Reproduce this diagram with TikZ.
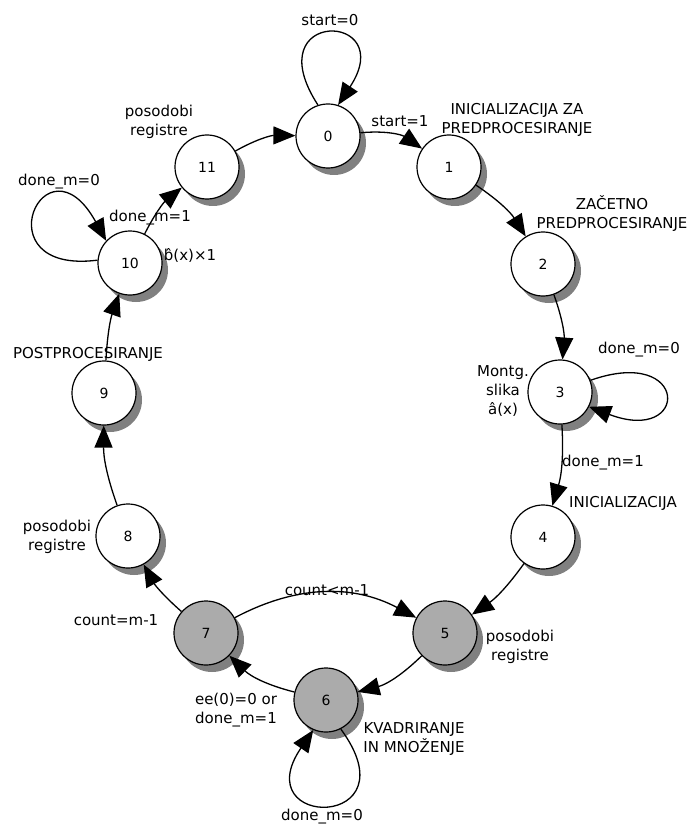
\documentclass[tikz,border=0pt]{standalone}
\usepackage{fontspec}
\setmainfont{DejaVu Sans}
\usetikzlibrary{arrows.meta,shadows}
\definecolor{shgray}{HTML}{808080}
\definecolor{stgray}{HTML}{ABABAB}
\newcommand{\bhatx}{\rlap{\makebox[0.635em][c]{ˆ}}b}
\begin{document}
\begin{tikzpicture}[x=1pt,y=1pt,
  st/.style={circle,draw,line width=1.2pt,minimum size=64pt,inner sep=0pt,fill=white,
    font=\fontsize{14}{17}\selectfont,
    drop shadow={shadow xshift=6pt,shadow yshift=-7pt,fill=shgray,draw=none,opacity=1}},
  gst/.style={st,fill=stgray},
  lbl/.style={font=\fontsize{15}{19}\selectfont,align=center,inner sep=0pt},
  tr/.style={line width=1.3pt,-{Triangle[length=22pt,width=18pt]}},
]
\useasboundingbox (0,0) rectangle (692,-826);

\node[st]  (n0)  at (328,-136) {0};
\node[st]  (n1)  at (449,-167) {1};
\node[st]  (n2)  at (543,-264) {2};
\node[st]  (n3)  at (560,-392) {3};
\node[st]  (n4)  at (543,-537) {4};
\node[gst] (n5)  at (445,-633) {5};
\node[gst] (n6)  at (326,-700) {6};
\node[gst] (n7)  at (206,-633) {7};
\node[st]  (n8)  at (128,-536) {8};
\node[st]  (n9)  at (104,-393) {9};
\node[st]  (n10) at (130,-263) {10};
\node[st]  (n11) at (207,-167) {11};

% transitions
\draw[tr] (n0) to[bend left=20] (n1);
\draw[tr] (n1) to[bend left=12] (n2);
\draw[tr] (n2) to[bend left=12] (n3);
\draw[tr] (n3) to[bend left=10] (n4);
\draw[tr] (n4) to[bend left=10] (n5);
\draw[tr] (n5) to[bend left=15] (n6);
\draw[tr] (n6) to[bend left=15] (n7);
\draw[tr] (n7) to[bend left=28] (n5);
\draw[tr] (n7) to[bend left=10] (n8);
\draw[tr] (n8) to[bend left=10] (n9);
\draw[tr] (n9) to[bend left=8] (n10);
\draw[tr] (n10) to[bend left=12] (n11);
\draw[tr] (n11) to[bend left=15] (n0);

% self loops
\draw[tr] (n0.108) .. controls (255,-8) and (400,-11) .. (n0.72);
\draw[tr] (n3.21) .. controls (690,-345) and (690,-445) .. (n3.-27);
\draw[tr] (n6.-63) .. controls (415,-830) and (245,-830) .. (n6.-113);
\draw[tr] (n10.175) .. controls (-20,-275) and (45,-130) .. (n10.137);

% labels
\node[lbl] (l1)  at (330,-20)  {start=0};
\node[lbl] (l2)  at (400,-121) {start=1};
\node[lbl] (l3)  at (517,-120) {INICIALIZACIJA ZA\\PREDPROCESIRANJE};
\node[lbl] (l4)  at (612,-214) {ZAČETNO\\PREDPROCESIRANJE};
\node[lbl] (l5)  at (639,-350) {done\_m=0};
\node[lbl] (l6)  at (503,-391) {Montg.\\slika\\â(x)};
\node[lbl] (l7)  at (603,-463) {done\_m=1};
\node[lbl] (l8)  at (623,-503) {INICIALIZACIJA};
\node[lbl] (l9)  at (520,-647) {posodobi\\registre};
\node[lbl] (l10) at (414,-739) {KVADRIRANJE\\IN MNOŽENJE};
\node[lbl] (l11) at (322,-817) {done\_m=0};
\node[lbl] (l12) at (236,-710) {ee(0)=0 or\\done\_m=1};
\node[lbl] (l13) at (327,-590) {count<m-1};
\node[lbl] (l14) at (116,-620) {count=m-1};
\node[lbl] (l15) at (57,-537)  {posodobi\\registre};
\node[lbl] (l16) at (88,-354)  {POSTPROCESIRANJE};
\node[lbl] (l17) at (59,-182)  {done\_m=0};
\node[lbl] (l18) at (150,-218) {done\_m=1};
\node[lbl] (l19) at (190,-255) {\bhatx(x)×1};
\node[lbl] (l20) at (159,-122) {posodobi\\registre};
\end{tikzpicture}
\end{document}
